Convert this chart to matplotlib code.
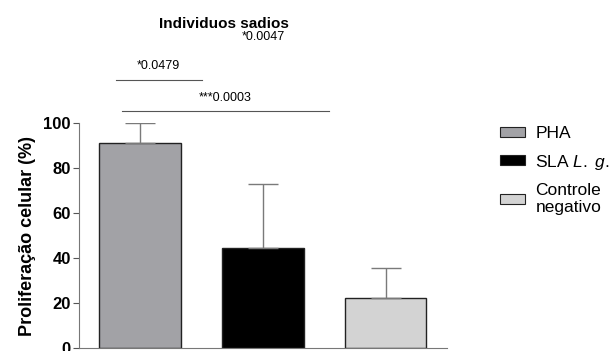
import matplotlib.pyplot as plt
from matplotlib.patches import Patch

plt.rcParams['font.family'] = ['Liberation Sans', 'DejaVu Sans']
plt.rcParams['mathtext.fontset'] = 'custom'
plt.rcParams['mathtext.it'] = 'Liberation Sans:italic'
plt.rcParams['mathtext.rm'] = 'Liberation Sans'

# dados
grupos = ['PHA', 'SLA $\\it{L.}$ $\\it{g.}$', 'Controle\nnegativo']
media = [91.0, 44.6, 22.4]
erro = [9.0, 28.3, 13.2]
cores = ['#a2a2a6', '#000000', '#d3d3d3']

# comparações: (x inicio, x fim, altura da linha, texto, altura do texto)
comparacoes = [(-0.2, 0.5, 119, '*0.0479', 122.5),
               (-0.15, 1.54, 105.3, '***0.0003', 108.5)]

fig = plt.figure(figsize=(6.13, 3.51), dpi=100)
ax = fig.add_axes([0.129, 0.0085, 0.6, 0.641])

x = list(range(len(media)))
ax.bar(x, media, width=0.667, color=cores, edgecolor='#222222', linewidth=1.0)
ax.errorbar(x, media, yerr=[[0] * len(erro), erro], fmt='none',
            ecolor='#7a7a7a', elinewidth=1.0, capsize=10.5, capthick=1.0)

for x0, x1, y, txt, yt in comparacoes:
    ax.plot([x0, x1], [y, y], color='#555555', lw=0.8, clip_on=False)
    ax.text((x0 + x1) / 2, yt, txt, ha='center', va='bottom', fontsize=9,
            clip_on=False)

ax.text(1.0, 135.5, '*0.0047', ha='center', va='bottom', fontsize=9)
ax.text(0.68, 141.0, 'Individuos sadios', ha='center', va='bottom',
        fontsize=11, fontweight='bold')

ax.set_xlim(-0.5, 2.5)
ax.set_ylim(0, 100)
ax.set_yticks([0, 20, 40, 60, 80, 100])
ax.set_xticks([])
for lbl in ax.get_yticklabels():
    lbl.set_fontweight('bold')
    lbl.set_fontsize(12)
ax.tick_params(axis='y', length=4, width=0.8, color='#555555', pad=2)
ax.set_ylabel('Proliferação celular (%)', fontsize=13, fontweight='bold',
              labelpad=5)
ax.spines['top'].set_visible(False)
ax.spines['right'].set_visible(False)
ax.spines['left'].set_color('#777777')
ax.spines['bottom'].set_color('#777777')

handles = [Patch(facecolor=c, edgecolor='#222222', linewidth=0.8) for c in cores]
fig.legend(handles, grupos, loc='upper left', bbox_to_anchor=(0.804, 0.66),
           frameon=False, fontsize=12.5, handlelength=1.45, handleheight=0.5,
           labelspacing=0.65, handletextpad=0.6, borderaxespad=0)

fig.savefig('out.png', dpi=100)
